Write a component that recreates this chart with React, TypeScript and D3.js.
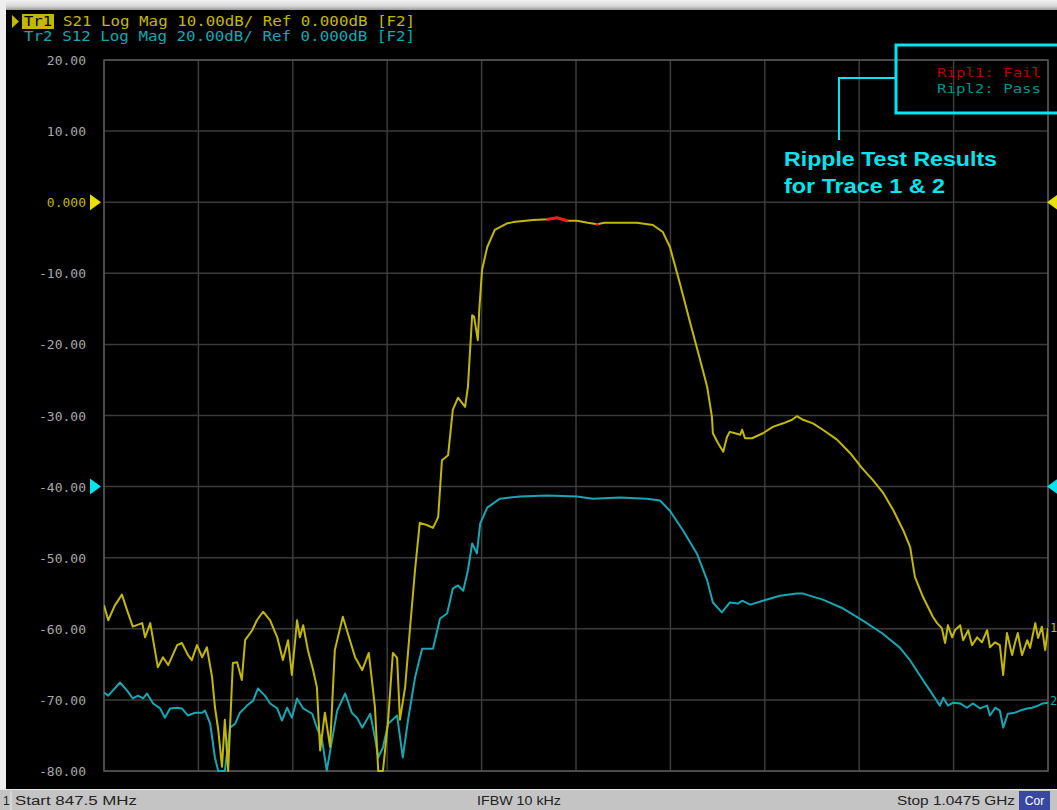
import React from "react";
import * as d3 from "d3";

// ---- Data ----
const startMHz = 847.5;
const stopMHz = 1047.5;

const tr1Freq = [
  847.5, 848.4, 849.8, 851.3, 852.4, 853.6, 855.6, 856.2, 857.3, 858.9, 860.0, 861.1, 863.0, 864.0, 865.3, 866.1,
  867.2, 868.3, 869.3, 870.4, 871.0, 871.7, 872.5, 873.1, 873.8, 874.8, 875.7, 876.7, 877.4, 878.9, 879.9, 881.2,
  882.7, 884.2, 885.4, 886.5, 887.3, 888.4, 889.0, 889.7, 890.7, 891.8, 892.6, 893.3, 894.3, 895.4, 896.4, 898.1,
  899.6, 900.7, 902.2, 903.6, 904.9, 905.6, 906.6, 907.7, 908.7, 909.6, 910.2, 911.3, 912.3, 913.4, 914.4, 915.9,
  917.2, 918.3, 919.1, 920.4, 921.4, 922.5, 924.0, 924.6, 925.5, 925.9, 926.7, 927.0, 927.6, 928.7, 930.3, 931.4,
  932.8, 934.2, 938.4, 941.6, 943.5, 945.6, 947.7, 950.0, 952.0, 953.5, 955.3, 960.4, 963.8, 965.9, 967.4, 969.5,
  971.7, 973.8, 975.3, 976.3, 976.5, 977.6, 978.7, 979.5, 980.1, 981.2, 982.3, 982.7, 983.3, 984.8, 987.1, 989.2,
  991.4, 993.3, 994.3, 995.6, 997.7, 999.8, 1002.8, 1005.6, 1008.1, 1010.4, 1012.5, 1014.7, 1016.8, 1018.3, 1019.3,
  1021.0, 1023.1, 1024.0, 1025.0, 1025.7, 1026.3, 1027.2, 1027.8, 1028.9, 1029.5, 1030.6, 1031.4, 1032.5, 1033.5,
  1034.6, 1035.2, 1036.3, 1037.3, 1038.0, 1038.8, 1039.9, 1040.5, 1041.1, 1042.0, 1043.1, 1043.7, 1044.8, 1045.4,
  1046.2, 1046.9, 1047.5,
];
const tr1Db = [
  -56.7, -58.8, -56.7, -55.2, -57.4, -59.7, -59.2, -61.2, -59.2, -65.4, -64.0, -65.1, -62.3, -62.0, -63.7, -64.4,
  -62.3, -64.0, -62.6, -66.8, -71.0, -74.2, -79.4, -72.8, -80.0, -64.8, -64.7, -67.2, -61.6, -60.2, -58.8, -57.6,
  -58.8, -61.2, -64.4, -61.6, -66.5, -58.8, -61.2, -59.5, -63.0, -65.8, -68.2, -77.1, -71.8, -76.6, -63.0, -58.3,
  -61.6, -64.0, -65.8, -63.4, -71.0, -80.0, -80.0, -72.8, -63.4, -64.1, -72.8, -68.2, -60.2, -51.7, -45.1, -45.4,
  -45.8, -44.3, -36.3, -35.6, -29.2, -27.5, -28.8, -26.0, -15.9, -16.1, -19.4, -15.2, -9.5, -6.3, -3.9, -3.5,
  -3.0, -2.8, -2.5, -2.4, -2.2, -2.6, -2.6, -2.9, -3.1, -2.9, -2.9, -2.9, -3.2, -4.2, -6.3, -11.4,
  -17.0, -22.2, -26.0, -30.2, -32.5, -33.9, -35.1, -33.0, -32.3, -32.5, -32.7, -32.0, -33.2, -33.2, -32.5, -31.6,
  -31.1, -30.6, -30.1, -30.6, -31.1, -32.0, -33.4, -35.3, -37.4, -39.1, -40.8, -43.3, -46.1, -48.5, -52.7,
  -55.5, -58.3, -59.2, -59.9, -62.0, -59.5, -61.2, -60.2, -59.5, -61.6, -60.2, -62.3, -61.2, -61.9,
  -60.2, -62.6, -61.9, -62.3, -66.5, -60.6, -63.7, -62.0, -60.6, -63.7, -61.6, -62.7, -59.2, -61.3,
  -59.7, -63.0, -59.9,
];

// Trace 2 values in its own scale (20 dB/div, ref 0 dB at the Tr2 marker line)
const tr2Freq = [
  847.5, 848.4, 850.9, 852.4, 853.6, 854.7, 855.8, 856.6, 857.9, 859.4, 860.4, 861.5, 863.0, 864.0, 865.3, 866.8,
  868.3, 868.9, 870.0, 871.0, 871.7, 873.1, 874.2, 875.3, 876.3, 877.8, 879.1, 880.1, 881.6, 882.7, 884.2, 885.2,
  886.3, 887.3, 888.4, 889.7, 891.6, 892.6, 893.7, 894.7, 895.8, 896.9, 898.6, 900.0, 901.1, 902.2, 903.9, 904.9,
  905.6, 906.6, 907.7, 909.6, 910.8, 911.9, 913.4, 914.9, 917.2, 918.7, 920.2, 921.4, 922.5, 923.6, 924.6, 925.5,
  926.5, 927.2, 928.7, 931.4, 935.6, 941.4, 947.7, 951.1, 956.8, 962.5, 965.3, 967.4, 970.2, 973.1, 975.3, 976.5,
  978.4, 980.1, 981.8, 982.7, 984.4, 987.1, 990.7, 994.3, 995.6, 999.8, 1004.1, 1008.3, 1012.5, 1016.1, 1018.3,
  1020.4, 1022.5, 1023.6, 1024.6, 1025.3, 1026.3, 1027.4, 1028.9, 1030.3, 1031.6, 1033.1, 1034.6, 1035.2, 1036.3,
  1037.3, 1038.0, 1039.0, 1040.5, 1041.6, 1043.1, 1044.1, 1045.4, 1046.4, 1047.5,
];
const tr2Db = [
  -57.9, -58.8, -55.1, -57.4, -59.6, -58.8, -59.6, -58.2, -61.0, -62.4, -65.0, -62.4, -62.2, -62.4, -64.4, -63.6,
  -63.6, -63.0, -66.7, -76.2, -80.0, -80.0, -67.8, -66.7, -63.6, -61.6, -60.2, -56.8, -58.8, -61.0, -62.4, -65.8,
  -62.2, -65.0, -59.6, -62.4, -63.9, -67.8, -71.4, -79.9, -71.4, -63.0, -58.2, -63.6, -65.0, -67.8, -63.9, -70.6,
  -76.2, -73.4, -66.7, -64.4, -76.2, -65.8, -53.7, -45.6, -45.6, -37.1, -35.7, -28.7, -27.8, -29.3, -23.6, -16.0,
  -18.8, -10.4, -5.9, -3.4, -2.8, -2.5, -2.8, -3.4, -3.1, -3.4, -3.9, -6.8, -12.4, -18.8, -26.4, -32.6,
  -35.4, -32.6, -32.9, -32.1, -33.2, -32.1, -30.7, -30.1, -30.1, -31.8, -34.3, -37.7, -41.4, -45.3, -48.9,
  -53.2, -57.4, -59.6, -61.6, -59.4, -61.6, -60.8, -61.0, -62.2, -61.0, -62.4, -61.6, -64.4, -62.2,
  -63.0, -67.8, -63.9, -63.6, -63.0, -62.4, -62.2, -61.6, -61.0, -60.8,
];

const rippleFailRanges: [number, number][] = [
  [941.2, 945.9],
  [951.4, 952.6],
];

const yTicks = [20, 10, 0, -10, -20, -30, -40, -50, -60, -70, -80];
const yTickLabels = ["20.00", "10.00", "0.000", "-10.00", "-20.00", "-30.00", "-40.00", "-50.00", "-60.00", "-70.00", "-80.00"];
const xDivisions = d3.range(0, 11);

const header1 = ["Tr1", "S21 Log Mag 10.00dB/ Ref 0.000dB [F2]"];
const header2 = "Tr2 S12 Log Mag 20.00dB/ Ref 0.000dB [F2]";
const rippleLines = ["Ripl1: Fail", "Ripl2: Pass"];
const calloutLines = ["Ripple Test Results", "for Trace 1 & 2"];
const statusTexts = ["1", "Start 847.5 MHz", "IFBW 10 kHz", "Stop 1.0475 GHz", "Cor"];

// ---- Styles ----
const W = 1057;
const H = 810;
const plot = { left: 104, right: 1048, top: 60, bottom: 771 };
const tr1Color = "#c2b800";
const tr2Color = "#17a6b2";
const failColor = "#ff1a1a";
const cyanBright = "#00e6ee";
const mono = "'DejaVu Sans Mono', 'Liberation Mono', monospace";
const sans = "'Liberation Sans', Arial, sans-serif";

export default function App() {
  const x = d3.scaleLinear().domain([startMHz, stopMHz]).range([plot.left, plot.right]);
  const y1 = d3.scaleLinear().domain([-80, 20]).range([plot.bottom, plot.top]);
  const y2 = d3.scaleLinear().domain([-80, 120]).range([plot.bottom, plot.top]);
  const xGrid = d3.scaleLinear().domain([0, 10]).range([plot.left, plot.right]);

  const tr1 = tr1Freq.map((f, i) => [f, tr1Db[i]] as [number, number]);
  const tr2 = tr2Freq.map((f, i) => [f, tr2Db[i]] as [number, number]);

  const line1 = d3.line<[number, number]>().x((d) => x(d[0])).y((d) => y1(d[1]));
  const line2 = d3.line<[number, number]>().x((d) => x(d[0])).y((d) => y2(d[1]));

  const failSegments = rippleFailRanges.map(([a, b]) => tr1.filter((d) => d[0] >= a && d[0] <= b));

  const y1Ref = y1(0);
  const y2Ref = y2(0);

  return (
    <svg
      width={W}
      height={H}
      style={{ position: "absolute", left: 0, top: 0, display: "block" }}
      xmlns="http://www.w3.org/2000/svg"
    >
      <defs>
        <clipPath id="plotClip">
          <rect x={plot.left} y={plot.top - 1} width={plot.right - plot.left} height={plot.bottom - plot.top + 2} />
        </clipPath>
        <linearGradient id="topBar" x1="0" x2="0" y1="0" y2="1">
          <stop offset="0" stopColor="#f2f2f2" />
          <stop offset="0.6" stopColor="#d8d8d8" />
          <stop offset="1" stopColor="#9a9a9a" />
        </linearGradient>
      </defs>

      {/* frame */}
      <rect x={0} y={0} width={W} height={H} fill="#000" />
      <rect x={0} y={0} width={W} height={10} fill="url(#topBar)" />
      <rect x={0} y={0} width={6} height={790} fill="#eeeeee" />

      {/* header */}
      <path d="M12,15 L19,21.5 L12,28 Z" fill={tr1Color} />
      <rect x={22} y={14} width={32} height={15} fill={tr1Color} />
      <text x={24} y={26} fontFamily={mono} fontSize={14} fill="#000" textLength={28} lengthAdjust="spacingAndGlyphs">
        {header1[0]}
      </text>
      <text x={63} y={26} fontFamily={mono} fontSize={14} fill={tr1Color} textLength={352} lengthAdjust="spacingAndGlyphs">
        {header1[1]}
      </text>
      <text x={24} y={41} fontFamily={mono} fontSize={14} fill={tr2Color} textLength={391} lengthAdjust="spacingAndGlyphs">
        {header2}
      </text>

      {/* grid */}
      {yTicks.map((t) => (
        <line key={"h" + t} x1={plot.left} x2={plot.right} y1={y1(t)} y2={y1(t)} stroke="#3c3c3c" strokeWidth={1.5} />
      ))}
      {xDivisions.map((d) => (
        <line key={"v" + d} x1={xGrid(d)} x2={xGrid(d)} y1={plot.top} y2={plot.bottom} stroke="#3c3c3c" strokeWidth={1.5} />
      ))}
      <rect
        x={plot.left}
        y={plot.top}
        width={plot.right - plot.left}
        height={plot.bottom - plot.top}
        fill="none"
        stroke="#555"
        strokeWidth={1.5}
      />

      {/* y tick labels */}
      {yTicks.map((t, i) => (
        <text
          key={"l" + t}
          x={86}
          y={y1(t) + 5}
          textAnchor="end"
          fontFamily={mono}
          fontSize={13}
          fill={t === 0 ? tr1Color : "#a8a8a8"}
        >
          {yTickLabels[i]}
        </text>
      ))}

      {/* reference markers */}
      <path d={`M90,${y1Ref - 8} L101,${y1Ref} L90,${y1Ref + 8} Z`} fill="#e8e000" />
      <path d={`M90,${y2Ref - 8} L101,${y2Ref} L90,${y2Ref + 8} Z`} fill={cyanBright} />
      <path d={`M1058,${y1Ref - 8} L1047,${y1Ref} L1058,${y1Ref + 8} Z`} fill="#e8e000" />
      <path d={`M1058,${y2Ref - 8} L1047,${y2Ref} L1058,${y2Ref + 8} Z`} fill={cyanBright} />

      {/* traces */}
      <g clipPath="url(#plotClip)">
        <path d={line2(tr2) || ""} fill="none" stroke={tr2Color} strokeWidth={2} strokeLinejoin="round" />
        <path d={line1(tr1) || ""} fill="none" stroke={tr1Color} strokeWidth={2} strokeLinejoin="round" />
        {failSegments.map((seg, i) => (
          <path key={"f" + i} d={line1(seg) || ""} fill="none" stroke={failColor} strokeWidth={3} strokeLinecap="round" />
        ))}
      </g>

      {/* trace end labels */}
      <text x={1050} y={y1(tr1Db[tr1Db.length - 1]) + 4} fontFamily={mono} fontSize={12} fill={tr1Color}>
        1
      </text>
      <text x={1050} y={y2(tr2Db[tr2Db.length - 1]) + 2} fontFamily={mono} fontSize={12} fill={tr2Color}>
        2
      </text>

      {/* ripple results box */}
      <rect x={896} y={45} width={170} height={68} fill="none" stroke={cyanBright} strokeWidth={3} />
      <text x={1041} y={77} textAnchor="end" fontFamily={mono} fontSize={13} fill="#b40000" textLength={104} lengthAdjust="spacingAndGlyphs">
        {rippleLines[0]}
      </text>
      <text x={1041} y={93} textAnchor="end" fontFamily={mono} fontSize={13} fill="#0f8f8f" textLength={104} lengthAdjust="spacingAndGlyphs">
        {rippleLines[1]}
      </text>
      <path d="M896,78 L839,78 L839,140" fill="none" stroke={cyanBright} strokeWidth={2} />
      <text x={784} y={166} fontFamily={sans} fontWeight="bold" fontSize={20} fill={cyanBright} textLength={213} lengthAdjust="spacingAndGlyphs">
        {calloutLines[0]}
      </text>
      <text x={784} y={193} fontFamily={sans} fontWeight="bold" fontSize={20} fill={cyanBright} textLength={161} lengthAdjust="spacingAndGlyphs">
        {calloutLines[1]}
      </text>

      {/* status bar */}
      <rect x={0} y={789} width={W} height={21} fill="#c4c4c4" />
      <line x1={0} x2={W} y1={789.5} y2={789.5} stroke="#e8e8e8" />
      <line x1={11} x2={11} y1={791} y2={810} stroke="#e8e8e8" />
      <text x={3} y={805} fontFamily={sans} fontSize={12} fill="#222">
        {statusTexts[0]}
      </text>
      <text x={15} y={805} fontFamily={sans} fontSize={12} fill="#222" textLength={122} lengthAdjust="spacingAndGlyphs">
        {statusTexts[1]}
      </text>
      <text x={477} y={805} fontFamily={sans} fontSize={12} fill="#222" textLength={84} lengthAdjust="spacingAndGlyphs">
        {statusTexts[2]}
      </text>
      <text x={1015} y={805} textAnchor="end" fontFamily={sans} fontSize={12} fill="#222" textLength={118} lengthAdjust="spacingAndGlyphs">
        {statusTexts[3]}
      </text>
      <rect x={1019} y={791} width={31} height={19} fill="#3848a0" />
      <text x={1034.5} y={805} textAnchor="middle" fontFamily={sans} fontSize={12} fill="#fff">
        {statusTexts[4]}
      </text>
    </svg>
  );
}
